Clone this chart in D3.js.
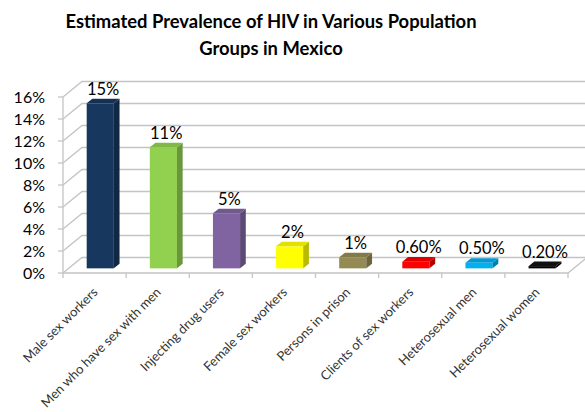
<!DOCTYPE html>
<html>
<head>
<meta charset="utf-8">
<script src="https://cdn.jsdelivr.net/npm/d3@7"></script>
<style>
  body { margin: 0; background: #fff; }
  text { font-family: Lato, "Open Sans", sans-serif; }
</style>
</head>
<body>
<div id="chart"></div>
<script>
// chart data
var categories = ["Male sex workers", "Men who have sex with men", "Injecting drug users",
  "Female sex workers", "Persons in prison", "Clients of sex workers",
  "Heterosexual men", "Heterosexual women"];
var values = [15, 11, 5, 2, 1, 0.6, 0.5, 0.2];
var valueLabels = ["15%", "11%", "5%", "2%", "1%", "0.60%", "0.50%", "0.20%"];
var barColors = ["#17375e", "#92d050", "#8064a2", "#ffff00", "#948a54", "#ff0000", "#00b0f0", "#000000"];
var yTicks = [0, 2, 4, 6, 8, 10, 12, 14, 16];
var titleLines = ["Estimated Prevalence of HIV in Various Population", "Groups in Mexico"];

var width = 585, height = 412;
// 3D depth offset (front plane -> back wall)
var depthX = 19, depthY = -15.5;
var barFront = 0.3, barBack = 0.6;

var svg = d3.select("#chart")
  .append("svg")
  .attr("width", width)
  .attr("height", height);

var x = d3.scaleBand()
  .domain(categories)
  .range([63, 568])
  .padding(0);

var y = d3.scaleLinear()
  .domain([0, 16])
  .range([273, 97]);

var grid = svg.append("g").attr("class", "grid")
  .attr("fill", "none")
  .attr("stroke", "#c4c4c4")
  .attr("stroke-width", 1.3);

// left wall diagonals + back wall gridlines
yTicks.forEach(function(t) {
  grid.append("path")
    .attr("d", "M" + x.range()[0] + "," + y(t) +
      "L" + (x.range()[0] + depthX) + "," + (y(t) + depthY) +
      "L" + (x.range()[1] + depthX) + "," + (y(t) + depthY));
  // small tick on the left of the axis
  grid.append("line")
    .attr("x1", x.range()[0] - 5).attr("x2", x.range()[0])
    .attr("y1", y(t)).attr("y2", y(t));
});

// front vertical axis line
grid.append("line")
  .attr("x1", x.range()[0]).attr("x2", x.range()[0])
  .attr("y1", y(16)).attr("y2", y(0));

// floor front edge and right edge
grid.append("path")
  .attr("d", "M" + x.range()[0] + "," + y(0) + "L" + x.range()[1] + "," + y(0) +
    "L" + (x.range()[1] + depthX) + "," + (y(0) + depthY));

// category ticks on the floor edge
var bounds = categories.map(function(c) { return x(c); }).concat([x.range()[1]]);
bounds.forEach(function(b) {
  grid.append("line")
    .attr("x1", b).attr("x2", b)
    .attr("y1", y(0)).attr("y2", y(0) + 5);
});

// y axis labels
svg.append("g").selectAll("text")
  .data(yTicks)
  .enter()
  .append("text")
  .attr("x", 45)
  .attr("y", function(d) { return y(d); })
  .attr("dy", "0.36em")
  .attr("text-anchor", "end")
  .style("font-size", "16px")
  .attr("fill", "#000")
  .text(function(d) { return d + "%"; });

// bars
var barW = x.bandwidth() * 0.43;
var bars = svg.append("g").selectAll("g")
  .data(values)
  .enter()
  .append("g");

function shade(c, k) {
  return d3.color(c).darker(k).formatHex();
}

bars.each(function(d, i) {
  var g = d3.select(this);
  var cx = x(categories[i]) + x.bandwidth() / 2;
  var fx = cx + depthX * barFront - barW / 2;   // front face left
  var fy0 = y(0) + depthY * barFront;           // front face bottom
  var fy1 = y(d) + depthY * barFront;           // front face top
  var ox = depthX * (barBack - barFront), oy = depthY * (barBack - barFront);
  var col = barColors[i];

  // front
  g.append("rect")
    .attr("x", fx).attr("y", fy1)
    .attr("width", barW).attr("height", fy0 - fy1)
    .attr("fill", col);
  // side
  g.append("path")
    .attr("d", "M" + (fx + barW) + "," + fy0 + "L" + (fx + barW) + "," + fy1 +
      "L" + (fx + barW + ox) + "," + (fy1 + oy) + "L" + (fx + barW + ox) + "," + (fy0 + oy) + "Z")
    .attr("fill", i === 7 ? "#000" : shade(col, 0.9));
  // top
  g.append("path")
    .attr("d", "M" + fx + "," + fy1 + "L" + (fx + barW) + "," + fy1 +
      "L" + (fx + barW + ox) + "," + (fy1 + oy) + "L" + (fx + ox) + "," + (fy1 + oy) + "Z")
    .attr("fill", i === 7 ? "#111" : shade(col, 0.35));

  // value label
  g.append("text")
    .attr("x", fx + barW / 2 + ox / 2)
    .attr("y", fy1 + oy - 4)
    .attr("text-anchor", "middle")
    .style("font-size", "16.5px")
    .attr("fill", "#000")
    .text(valueLabels[i]);
});

// category labels
svg.append("g").selectAll("text")
  .data(categories)
  .enter()
  .append("text")
  .attr("transform", function(d) {
    return "translate(" + (x(d) + x.bandwidth() / 2 + 4) + "," + (y(0) + 20) + ") rotate(-45)";
  })
  .attr("text-anchor", "end")
  .style("font-size", "13px")
  .attr("fill", "#333")
  .text(function(d) { return d; });

// title
svg.append("g").selectAll("text")
  .data(titleLines)
  .enter()
  .append("text")
  .attr("x", 271)
  .attr("y", function(d, i) { return 28 + i * 27; })
  .attr("text-anchor", "middle")
  .style("font-size", "18.4px")
  .style("font-weight", "bold")
  .attr("fill", "#000")
  .text(function(d) { return d; });
</script>
</body>
</html>
